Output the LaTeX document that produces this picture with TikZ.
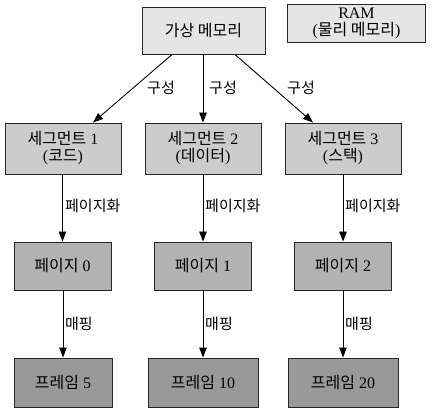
\documentclass[tikz,border=0pt]{standalone}
\usepackage{fontspec}
\setmainfont{Liberation Serif}
\newfontfamily\kr{Noto Sans CJK KR}
\usetikzlibrary{arrows.meta}
\begin{document}
\begin{tikzpicture}[x=1pt,y=-1pt,
  box/.style={draw=black!85,line width=0.9pt,inner sep=0pt,align=center,font=\fontsize{16}{17}\selectfont},
  lbl/.style={inner sep=0pt,font=\fontsize{15}{16}\selectfont\kr},
  arr/.style={line width=0.9pt,-{Triangle[length=10pt,width=7.5pt]}}]
\useasboundingbox (0,0) rectangle (432,412);
\node[box,fill=black!10,minimum width=123pt,minimum height=47pt] (top) at (203.5,31) {{\kr 가상 메모리}};
\node[box,fill=black!10,minimum width=138pt,minimum height=38pt] (ram) at (356.5,23) {RAM\\({\kr 물리 메모리})};
\node[box,fill=black!20,minimum width=116pt,minimum height=51pt] (s1) at (63,148.5) {{\kr 세그먼트} 1\\({\kr 코드})};
\node[box,fill=black!20,minimum width=116pt,minimum height=51pt] (s2) at (203,148.5) {{\kr 세그먼트} 2\\({\kr 데이터})};
\node[box,fill=black!20,minimum width=116pt,minimum height=51pt] (s3) at (343,148.5) {{\kr 세그먼트} 3\\({\kr 스택})};
\node[box,fill=black!30,minimum width=97pt,minimum height=48pt] (p0) at (62.5,266) {{\kr 페이지} 0};
\node[box,fill=black!30,minimum width=97pt,minimum height=48pt] (p1) at (203,266) {{\kr 페이지} 1};
\node[box,fill=black!30,minimum width=97pt,minimum height=48pt] (p2) at (343,266) {{\kr 페이지} 2};
\node[box,fill=black!40,minimum width=98pt,minimum height=49pt] (f5) at (63,382.5) {{\kr 프레임} 5};
\node[box,fill=black!40,minimum width=110pt,minimum height=49pt] (f10) at (203,382.5) {{\kr 프레임} 10};
\node[box,fill=black!40,minimum width=110pt,minimum height=49pt] (f20) at (343,382.5) {{\kr 프레임} 20};
\draw[arr] ([xshift=-32pt]top.south) -- ([xshift=30pt]s1.north);
\draw[arr] (top.south -| s2.north) -- (s2.north);
\draw[arr] ([xshift=32pt]top.south) -- ([xshift=-30pt]s3.north);
\node[lbl] (g1) at (161,88) {구성};
\node[lbl] (g2) at (223,88) {구성};
\node[lbl] (g3) at (301,88) {구성};
\draw[arr] (s1.south -| p0.north) -- (p0.north);
\draw[arr] (s2) -- (p1);
\draw[arr] (s3) -- (p2);
\node[lbl,anchor=west] (h1) at (65,206) {페이지화};
\node[lbl,anchor=west] (h2) at (205,206) {페이지화};
\node[lbl,anchor=west] (h3) at (345,206) {페이지화};
\draw[arr] (p0.south -| f5.north) -- (f5.north);
\draw[arr] (p1) -- (f10);
\draw[arr] (p2) -- (f20);
\node[lbl,anchor=west] (m1) at (65,324) {매핑};
\node[lbl,anchor=west] (m2) at (205,324) {매핑};
\node[lbl,anchor=west] (m3) at (345,324) {매핑};
\end{tikzpicture}
\end{document}
